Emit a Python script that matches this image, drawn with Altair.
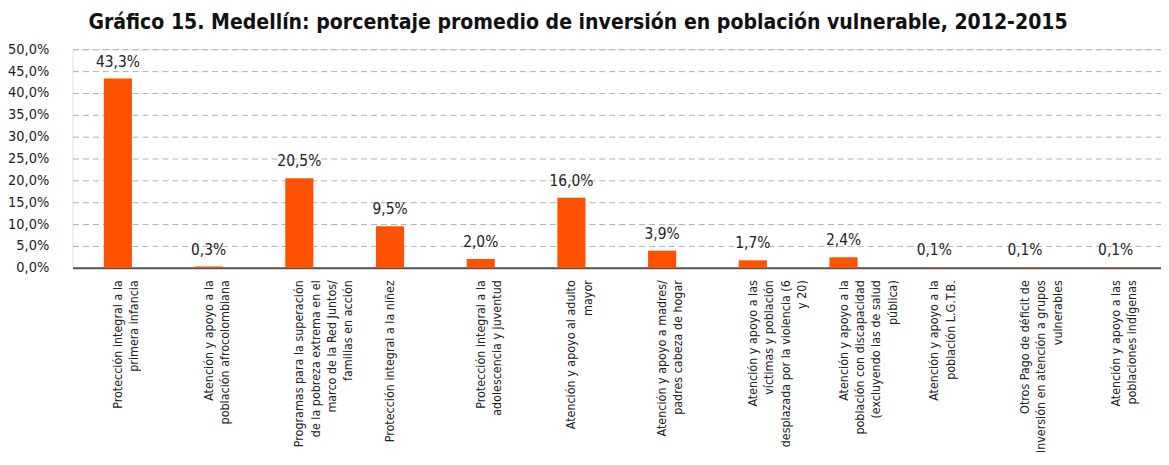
import altair as alt
import pandas as pd

categories = [
    "Protección integral a la|primera infancia",
    "Atención y apoyo a la|población afrocolombiana",
    "Programas para la superación|de la pobreza extrema en el|marco de la Red Juntos/|familias en acción",
    "Protección integral a la niñez",
    "Protección integral a la|adolescencia y juventud",
    "Atención y apoyo al adulto|mayor",
    "Atención y apoyo a madres/|padres cabeza de hogar",
    "Atención y apoyo a las|víctimas y población|desplazada por la violencia (6|y 20)",
    "Atención y apoyo a la|población con discapacidad|(excluyendo las de salud|pública)",
    "Atención y apoyo a la|población L.G.T.B.",
    "Otros Pago de déficit de|inversión en atención a grupos|vulnerables",
    "Atención y apoyo a las|poblaciones indígenas",
]
values = [43.3, 0.3, 20.5, 9.5, 2.0, 16.0, 3.9, 1.7, 2.4, 0.1, 0.1, 0.1]
y_ticks = [0, 5, 10, 15, 20, 25, 30, 35, 40, 45, 50]
title_text = "Gráfico 15. Medellín: porcentaje promedio de inversión en población vulnerable, 2012-2015"

df = pd.DataFrame({"cat": categories, "val": values})
df["lbl"] = [f"{v:.1f}".replace(".", ",") + "%" for v in values]

FONT = "DejaVu Sans Condensed, sans-serif"

x_enc = alt.X(
    "cat:N",
    sort=categories,
    title=None,
    scale=alt.Scale(paddingInner=0.69, paddingOuter=0.345),
    axis=alt.Axis(
        labelExpr="split(datum.label, '|')",
        labelAngle=-90,
        labelAlign="right",
        labelBaseline="middle",
        labelPadding=12,
        labelLimit=0,
        labelOverlap=False,
        labelFontSize=12.5,
        labelLineHeight=16.5,
        labelColor="#222222",
        labelFont=FONT,
        ticks=False,
        tickSize=0,
        domain=True,
        domainColor="#555555",
        domainWidth=2,
        grid=False,
    ),
)

y_enc = alt.Y(
    "val:Q",
    title=None,
    scale=alt.Scale(domain=[0, 50], nice=False),
    axis=alt.Axis(
        values=y_ticks,
        labelExpr="replace(format(datum.value, '.1f'), '.', ',') + '%'",
        labelFontSize=14.5,
        labelFont=FONT,
        labelColor="#222222",
        labelPadding=24,
        labelOverlap=False,
        ticks=False,
        tickSize=0,
        domain=False,
        grid=True,
        gridColor="#b0b0b0",
        gridDash=[6, 4],
        gridWidth=1,
    ),
)

bars = alt.Chart(df).mark_bar(color="#FF5200").encode(x=x_enc, y=y_enc)

labels = alt.Chart(df).mark_text(
    baseline="bottom", dy=-9, fontSize=15.5, font=FONT, color="#222222"
).encode(x=x_enc, y=y_enc, text="lbl:N")

chart = (
    alt.layer(bars, labels)
    .properties(
        width=1096,
        height=220,
        autosize=alt.AutoSizeParams(type="none"),
        padding={"left": 65, "top": 40, "right": 0, "bottom": 190},
        title=alt.TitleParams(
            text=title_text,
            font=FONT,
            fontSize=21.2,
            fontWeight="bold",
            color="#111111",
            anchor="middle",
            dx=-39,
            offset=8,
        ),
    )
    .configure_view(stroke=None)
    .configure(background="white")
)

chart.save("out.html", embed_options={"renderer": "svg", "actions": False})
